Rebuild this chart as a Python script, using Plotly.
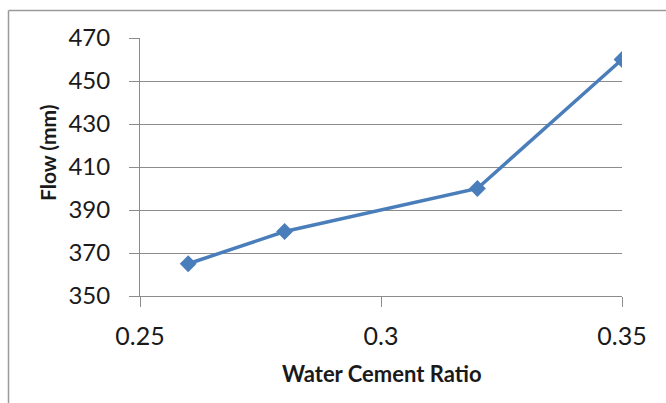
import plotly.graph_objects as go

ratio = [0.26, 0.28, 0.32, 0.35]
flow = [365, 380, 400, 460]
x_ticks = [0.25, 0.3, 0.35]
x_tick_text = ["0.25", "0.3", "0.35"]
y_ticks = [350, 370, 390, 410, 430, 450, 470]

W, H = 666, 403
L, R, T, B = 140, 44, 38, 107
pw, ph = W - L - R, H - T - B

def px_x(p):
    return (p - L) / pw

def px_y(p):
    return (H - B - p) / ph

FONT = "Lato"
blue = "#4A7EBB"
grid = "#8C8C8C"

fig = go.Figure()
fig.add_trace(go.Scatter(
    x=ratio, y=flow, mode="lines+markers",
    line=dict(color=blue, width=3.5),
    marker=dict(symbol="diamond", size=13, color=blue),
    showlegend=False,
))

fig.update_layout(
    width=W, height=H,
    margin=dict(l=L, r=R, t=T, b=B),
    paper_bgcolor="white", plot_bgcolor="white",
    font=dict(family=FONT, color="#1a1a1a"),
    xaxis=dict(
        range=[0.25, 0.35], tickvals=x_ticks, ticktext=x_tick_text,
        showgrid=False, zeroline=False,
        showline=True, linecolor=grid, linewidth=1,
        ticks="outside", ticklen=10, tickcolor=grid, tickwidth=1,
        tickfont=dict(family=FONT, size=25, color="#1a1a1a"),
        ticklabelstandoff=8,
    ),
    yaxis=dict(
        range=[350, 470], tickvals=y_ticks,
        showgrid=True, gridcolor=grid, gridwidth=1, zeroline=False,
        showline=True, linecolor=grid, linewidth=1,
        ticks="outside", ticklen=10, tickcolor=grid, tickwidth=1,
        tickfont=dict(family=FONT, size=24, color="#1a1a1a"),
        ticklabelstandoff=14,
    ),
    annotations=[
        dict(text="<b>Flow (mm)</b>", textangle=-90, showarrow=False,
             xref="paper", yref="paper", x=px_x(47), y=px_y(153),
             xanchor="center", yanchor="middle",
             font=dict(family=FONT, size=21, color="#1a1a1a")),
        dict(text="<b>Water Cement Ratio</b>", showarrow=False,
             xref="paper", yref="paper", x=px_x(381.5), y=px_y(373),
             xanchor="center", yanchor="middle",
             font=dict(family=FONT, size=22, color="#1a1a1a")),
    ],
    shapes=[
        dict(type="line", xref="paper", yref="paper",
             x0=px_x(8.5), x1=px_x(8.5), y0=px_y(10.5), y1=px_y(403),
             line=dict(color="#9A9A9A", width=1.5)),
        dict(type="line", xref="paper", yref="paper",
             x0=px_x(8.5), x1=px_x(666), y0=px_y(10.5), y1=px_y(10.5),
             line=dict(color="#9A9A9A", width=1.5)),
    ],
)

fig.write_html("out.html")
